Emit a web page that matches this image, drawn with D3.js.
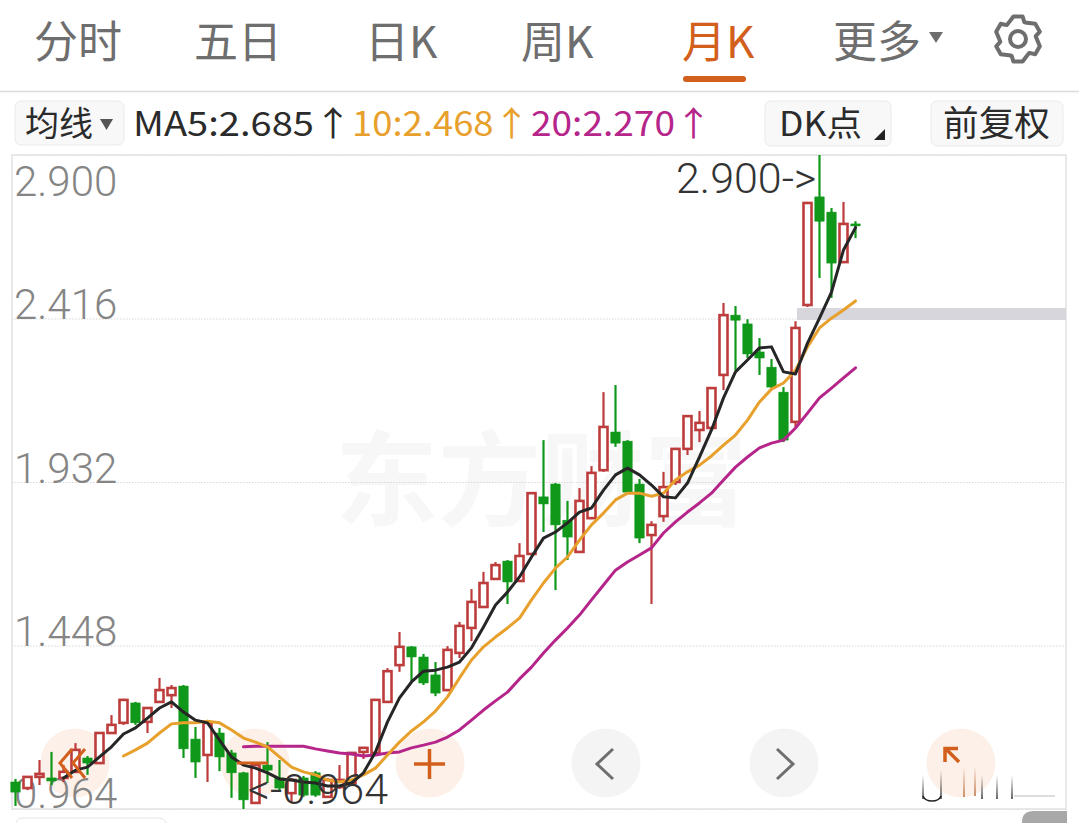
<!DOCTYPE html>
<html><head><meta charset="utf-8">
<script src="https://cdnjs.cloudflare.com/ajax/libs/d3/7.8.5/d3.min.js"></script>
<style>html,body{margin:0;padding:0;background:#fff;overflow:hidden}svg{display:block}</style>
</head><body><svg id="c" width="1079" height="823"></svg>
<script>
const tabLabels=["分时","五日","日K","周K","月K","更多"];
const priceTicks=[2.900,2.416,1.932,1.448,0.964];
const opens=[1.044,1.026,1.059,1.056,1.056,1.074,1.115,1.100,1.189,1.219,1.278,1.222,1.281,1.301,1.328,1.171,1.124,1.189,1.130,1.071,0.982,1.094,1.056,1.011,1.056,1.071,1.000,1.029,1.041,1.133,1.130,1.281,1.390,1.444,1.414,1.361,1.316,1.426,1.500,1.562,1.645,1.698,1.639,1.719,1.888,1.926,1.819,1.725,1.825,1.967,2.080,2.053,1.926,1.775,1.831,1.932,2.030,2.086,2.092,2.249,2.426,2.400,2.317,2.272,2.198,2.110,2.456,2.776,2.731,2.583,2.696];
const closes=[1.014,1.059,1.068,1.047,1.074,1.139,1.100,1.189,1.213,1.287,1.219,1.263,1.316,1.322,1.142,1.103,1.219,1.118,1.071,0.991,1.094,1.079,1.026,1.050,1.005,1.005,1.050,1.050,1.130,1.145,1.287,1.372,1.444,1.414,1.337,1.307,1.435,1.506,1.577,1.633,1.686,1.636,1.713,1.899,1.867,1.805,1.769,1.876,1.959,2.095,2.047,1.902,1.766,1.805,1.917,2.030,2.127,2.107,2.210,2.426,2.411,2.311,2.299,2.213,2.056,2.388,2.758,2.704,2.580,2.696,2.690];
const highs=[1.053,1.059,1.109,1.133,1.094,1.159,1.121,1.189,1.242,1.290,1.281,1.266,1.352,1.331,1.331,1.207,1.227,1.204,1.139,1.074,1.100,1.162,1.109,1.056,1.062,1.076,1.056,1.094,1.133,1.148,1.290,1.381,1.488,1.446,1.423,1.399,1.446,1.518,1.615,1.666,1.695,1.701,1.751,1.902,2.056,1.929,1.876,1.914,1.979,2.198,2.219,2.056,1.941,1.816,1.962,2.033,2.130,2.142,2.213,2.462,2.453,2.414,2.358,2.296,2.213,2.408,2.761,2.900,2.743,2.761,2.704];
const lows=[0.973,1.020,1.035,1.035,1.044,1.071,1.065,1.097,1.186,1.213,1.213,1.189,1.281,1.263,1.115,1.056,1.044,1.076,0.997,0.964,0.979,1.041,1.020,0.982,1.000,1.000,0.997,1.023,1.038,1.112,1.127,1.278,1.370,1.340,1.331,1.298,1.313,1.411,1.461,1.559,1.642,1.571,1.636,1.716,1.784,1.612,1.701,1.722,1.822,1.962,2.036,1.899,1.751,1.571,1.814,1.923,2.012,2.050,2.089,2.204,2.263,2.299,2.249,2.210,2.050,2.095,2.450,2.536,2.477,2.580,2.654];
const ma5=[1.056,1.079,1.088,1.118,1.148,1.186,1.204,1.233,1.263,1.281,1.251,1.227,1.219,1.168,1.118,1.094,1.085,1.071,1.053,1.050,1.044,1.041,1.032,1.032,1.041,1.071,1.133,1.222,1.293,1.340,1.372,1.375,1.384,1.399,1.441,1.503,1.568,1.606,1.651,1.710,1.766,1.784,1.811,1.843,1.855,1.908,1.953,1.973,1.953,1.923,1.888,1.885,1.929,2.006,2.086,2.181,2.258,2.293,2.329,2.332,2.258,2.252,2.343,2.417,2.494,2.619,2.685];
const ma10=[1.121,1.139,1.159,1.189,1.216,1.219,1.219,1.224,1.219,1.198,1.174,1.162,1.148,1.118,1.088,1.074,1.065,1.050,1.044,1.050,1.065,1.085,1.124,1.162,1.195,1.222,1.254,1.296,1.352,1.405,1.444,1.473,1.500,1.529,1.583,1.633,1.677,1.710,1.760,1.805,1.840,1.879,1.899,1.899,1.890,1.899,1.938,1.962,1.982,2.009,2.041,2.071,2.115,2.169,2.207,2.225,2.263,2.332,2.388,2.417,2.441,2.468];
const ma20=[1.148,1.150,1.150,1.150,1.150,1.150,1.142,1.136,1.130,1.127,1.121,1.124,1.130,1.133,1.145,1.153,1.162,1.177,1.198,1.227,1.257,1.284,1.310,1.349,1.384,1.426,1.464,1.500,1.538,1.583,1.627,1.671,1.695,1.716,1.737,1.781,1.814,1.843,1.870,1.899,1.938,1.976,2.006,2.033,2.047,2.056,2.092,2.136,2.181,2.210,2.240,2.270];
const legendText=["MA5:2.685↑","10:2.468↑","20:2.270↑"];
const legendColors=["#2b2b2b","#e8a02c","#b5258a"];

const CJK='"Noto Sans CJK SC","Noto Sans",sans-serif', NUM='Roboto,"Noto Sans",sans-serif';
const svg=d3.select("#c");
const RED="#bd3c3c", GREEN="#0f981a", ORANGE="#d2601c", GREY="#6e6e6e";

/* header */
const tabX=[34,194,365,521,682,833];
svg.selectAll("text.tab").data(tabLabels).join("text").attr("class","tab")
  .attr("x",(d,i)=>tabX[i]).attr("y",58).attr("font-family",CJK).attr("font-size",44).attr("font-weight",400)
  .attr("fill",(d,i)=>i===4?ORANGE:GREY).text(d=>d);
svg.append("path").attr("d","M929 32h14l-7 11z").attr("fill",GREY);
svg.append("rect").attr("x",683).attr("y",76).attr("width",63).attr("height",6).attr("rx",3).attr("fill",ORANGE);
svg.append("line").attr("x1",0).attr("x2",1079).attr("y1",91.5).attr("y2",91.5).attr("stroke","#dcdcdc").attr("stroke-width",1.5);
/* gear */
(function(){const cx=1018,cy=39,n=6,p=d3.path();
 for(let i=0;i<n;i++){const a=-Math.PI/2+i*2*Math.PI/n,w=0.26,w2=0.20;
  const pts=[[23,a-w2],[23,a+w2],[18,a+w+0.1],[18,a+Math.PI/n-0.12]];
  pts.forEach((q,k)=>{const X=cx+q[0]*Math.cos(q[1]),Y=cy+q[0]*Math.sin(q[1]);(i===0&&k===0)?p.moveTo(X,Y):p.lineTo(X,Y);});}
 p.closePath();
 svg.append("path").attr("d",p.toString()).attr("fill","none").attr("stroke",GREY).attr("stroke-width",4).attr("stroke-linejoin","round");
 svg.append("circle").attr("cx",cx).attr("cy",cy).attr("r",8).attr("fill","none").attr("stroke",GREY).attr("stroke-width",4);
})();

/* second row */
[[15,101,109,44],[765,101,126,45],[931,101,132,45]].forEach(b=>svg.append("rect").attr("x",b[0]).attr("y",b[1]).attr("width",b[2]).attr("height",b[3]).attr("rx",6).attr("fill","#f8f8f9").attr("stroke","#eaeaea"));
const rowT=(tx,t,c,fs,tl)=>{const e=svg.append("text").attr("x",tx).attr("y",136).attr("font-family",CJK).attr("font-size",fs||33).attr("font-weight",400).attr("fill",c||"#2b2b2b").text(t);if(tl)e.attr("textLength",tl).attr("lengthAdjust","spacingAndGlyphs");return e;};
rowT(25,"均线","#2b2b2b",34);
svg.append("path").attr("d","M100 119h13l-6.5 11z").attr("fill","#555");
rowT(133,legendText[0],legendColors[0],34,219);
rowT(352,legendText[1],legendColors[1],34,178);
rowT(531,legendText[2],legendColors[2],34,181);
rowT(779,"DK点","#2b2b2b",34,83);
svg.append("path").attr("d","M874 140l11 -11v11z").attr("fill","#222");
rowT(943,"前复权","#2b2b2b",35,107);

/* chart frame and scales */
const fL=12,fR=1066,fT=155,fB=809;
const y=d3.scaleLinear().domain([0.964,2.900]).range([fB,fT]);
const x=d3.scaleLinear().domain([0,70]).range([15.5,855.5]);

/* watermark */
svg.append("text").attr("x",335).attr("y",518).attr("font-family",CJK).attr("font-size",103).attr("font-weight",700).attr("fill","#f7f7f7").text("东方财富");

/* translucent buttons beneath marks */
const btn=[[75,"#fdf0e8"],[255,"#fdf0e8"],[430,"#fdf0e8"],[606,"#f4f4f4"],[784,"#f4f4f4"],[961,"#fdf0e8"]];
svg.selectAll("circle.btn").data(btn).join("circle").attr("class","btn").attr("cx",d=>d[0]).attr("cy",763).attr("r",34.5).attr("fill",d=>d[1]);

/* axis + grid */
const axis=d3.axisLeft(y).tickValues(priceTicks).tickSize(-(fR-fL)).tickFormat(d3.format(".3f"));
const ga=svg.append("g").attr("transform",`translate(${fL},0)`).call(axis);
ga.select(".domain").remove();
ga.selectAll(".tick line").attr("stroke","#d8d8d8").attr("stroke-dasharray","1.5 1.5");
ga.selectAll(".tick text").attr("x",2).attr("dy",null).attr("text-anchor","start").attr("font-family",NUM).attr("font-size",42).attr("font-weight",300).attr("fill","#858585")
  .attr("y",d=>d===2.900?40:(d===0.964?-2:0));
svg.append("rect").attr("x",fL).attr("y",fT).attr("width",fR-fL).attr("height",fB-fT).attr("fill","none").attr("stroke","#e2e2e2").attr("stroke-width",1.5);

/* DK band */
svg.append("rect").attr("x",797).attr("y",308).attr("width",269).attr("height",12).attr("fill","#d6d6dc");

/* candles */
const candles=d3.range(opens.length);
const isUp=i=>closes[i]>=opens[i]&&i!==18;
const colour=i=>isUp(i)?RED:GREEN;
const g=svg.append("g");
g.selectAll("line.w").data(candles).join("line").attr("class","w").attr("x1",x).attr("x2",x).attr("y1",i=>y(highs[i])).attr("y2",i=>y(lows[i])).attr("stroke",colour).attr("stroke-width",2.2);
g.selectAll("rect.b").data(candles).join("rect").attr("class","b")
  .attr("x",i=>x(i)-(isUp(i)?4:4.7)).attr("width",i=>isUp(i)?8:9.4)
  .attr("y",i=>y(Math.max(opens[i],closes[i]))).attr("height",i=>Math.max(y(Math.min(opens[i],closes[i]))-y(Math.max(opens[i],closes[i])),1.5))
  .attr("fill",i=>isUp(i)?"#fff":GREEN).attr("stroke",i=>isUp(i)?RED:GREEN).attr("stroke-width",i=>isUp(i)?2.6:0.5);

/* moving averages */
const drawMA=(vals,color,w)=>{const off=opens.length-vals.length;
  svg.append("path").attr("fill","none").attr("stroke",color).attr("stroke-width",w).attr("stroke-linejoin","round").attr("stroke-linecap","round")
   .attr("d",d3.line().x((d,i)=>x(i+off)).y(d=>y(d))(vals));};
drawMA(ma20,"#b5258a",3);
drawMA(ma10,"#e8a02c",3);
drawMA(ma5,"#262626",3);

/* extreme labels */
const ann=(tx,ty,t)=>svg.append("text").attr("x",tx).attr("y",ty).attr("font-family",NUM).attr("font-size",43).attr("font-weight",300).attr("fill","#333").text(t);
ann(676,193,"2.900->");
ann(248,804,"<-0.964");

/* button icons */
const ico=(d,c,w)=>svg.append("path").attr("d",d).attr("fill","none").attr("stroke",c).attr("stroke-width",w);
ico("M72 749L60 763L72 778M85 749L73 763L85 778",ORANGE,3);
ico("M237 763H268",ORANGE,3);
ico("M414 764H445M429.5 749V779",ORANGE,3.5);
ico("M613 749L597 764L613 779",GREY,3);
ico("M777 749L793 764L777 779",GREY,3);
ico("M945 762V748.5H958M946 749L959 762",ORANGE,3.5);

/* residue of the erased mark, bottom right */
const defs=svg.append("defs");
const mk=(id,c)=>{const lg=defs.append("linearGradient").attr("id",id).attr("x1",0).attr("y1",0).attr("x2",0).attr("y2",1);
 lg.append("stop").attr("offset",0).attr("stop-color",c).attr("stop-opacity",0);lg.append("stop").attr("offset",1).attr("stop-color",c).attr("stop-opacity",0.7);};
mk("gk","#222");mk("go","#b5622c");
[[923,775,24,"gk"],[941,770,29,"gk"],[964,767,30,"go"],[975,766,30,"go"],[982,775,24,"gk"],[997,775,24,"gk"],[1012,775,24,"gk"]].forEach(a=>svg.append("rect").attr("x",a[0]-1).attr("y",a[1]).attr("width",2).attr("height",a[2]).attr("fill",`url(#${a[3]})`));
ico("M923 796Q925 801 932 801Q939 801 941 796","#222",1.5);
svg.append("line").attr("x1",1014).attr("x2",1055).attr("y1",796).attr("y2",796).attr("stroke","#bbb").attr("stroke-width",1);

/* bottom edges */
svg.append("path").attr("d","M1022 823V822Q1022 811 1034 811H1067V823Z").attr("fill","#a8a8a8");
svg.append("path").attr("d","M16 823Q17 818 24 818H158Q165 818 166 823").attr("fill","none").attr("stroke","#e4e4e4");
</script></body></html>
